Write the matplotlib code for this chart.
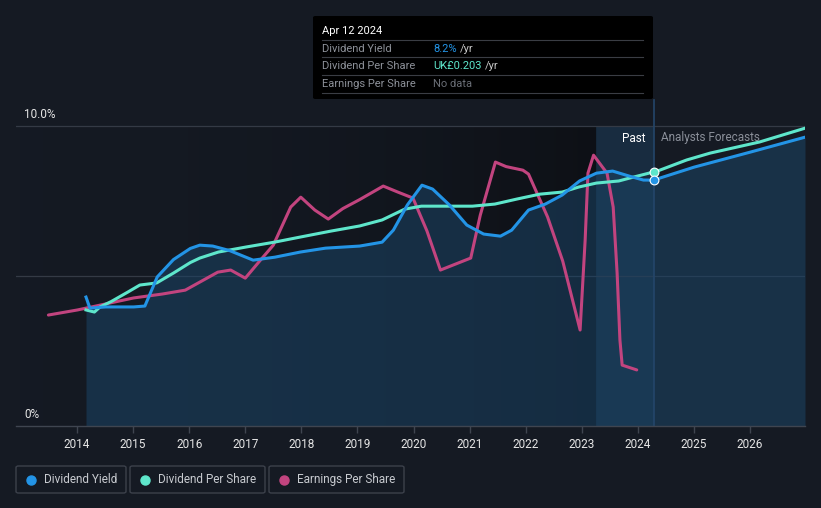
import matplotlib
matplotlib.use("Agg")
import matplotlib.pyplot as plt
import numpy as np
from matplotlib.colors import LinearSegmentedColormap
from matplotlib.patches import FancyBboxPatch

plt.rcParams['font.family'] = ['Roboto', 'DejaVu Sans']

# ---- data ----
dy_years = [2014.16, 2014.23, 2014.51, 2015.01, 2015.21, 2015.43, 2015.72, 2016.02, 2016.19, 2016.42,
            2016.72, 2017.14, 2017.53, 2017.98, 2018.43, 2019.04, 2019.44, 2019.64, 2019.89, 2020.15,
            2020.34, 2020.64, 2020.95, 2021.25, 2021.55, 2021.75, 2022.05, 2022.35, 2022.65, 2022.96,
            2023.26, 2023.55, 2023.85, 2024.1, 2024.28]
dy_vals = [4.30, 3.93, 3.97, 3.97, 4.00, 4.97, 5.55, 5.92, 6.03, 6.0,
           5.85, 5.53, 5.63, 5.80, 5.93, 6.00, 6.13, 6.53, 7.37, 8.03,
           7.90, 7.37, 6.70, 6.40, 6.33, 6.53, 7.20, 7.40, 7.70, 8.17,
           8.43, 8.50, 8.33, 8.20, 8.20]
dy_fc_years = [2024.28, 2025.0, 2026.0, 2026.98]
dy_fc_vals = [8.20, 8.63, 9.13, 9.63]

dps_years = [2014.16, 2014.31, 2014.41, 2014.61, 2014.91, 2015.12, 2015.42, 2015.72, 2016.02, 2016.19,
             2016.52, 2017.02, 2017.52, 2017.98, 2018.53, 2019.04, 2019.44, 2019.84, 2020.14, 2021.05,
             2021.45, 2021.85, 2022.25, 2022.65, 2022.95, 2023.26, 2023.66, 2023.86, 2024.28]
dps_vals = [3.87, 3.80, 3.97, 4.15, 4.47, 4.70, 4.77, 5.10, 5.45, 5.60,
            5.80, 5.97, 6.13, 6.30, 6.50, 6.67, 6.87, 7.23, 7.33, 7.33,
            7.40, 7.57, 7.73, 7.80, 7.97, 8.10, 8.17, 8.27, 8.47]
dps_fc_years = [2024.28, 2024.39, 2024.87, 2025.29, 2026.17, 2026.98]
dps_fc_vals = [8.47, 8.53, 8.87, 9.10, 9.47, 9.93]

eps_years = [2013.49, 2014.01, 2014.51, 2015.01, 2015.52, 2015.93, 2016.22, 2016.51, 2016.74, 2017.0,
             2017.27, 2017.5, 2017.81, 2017.99, 2018.24, 2018.48, 2018.74, 2019.04, 2019.46, 2019.72,
             2019.99, 2020.24, 2020.48, 2020.75, 2021.02, 2021.19, 2021.46, 2021.65, 2021.95, 2022.05,
             2022.39, 2022.66, 2022.97, 2023.06, 2023.11, 2023.21, 2023.45, 2023.56, 2023.63, 2023.68,
             2023.72, 2023.98]
eps_vals = [3.70, 3.87, 4.07, 4.27, 4.40, 4.53, 4.83, 5.13, 5.20, 4.93,
            5.53, 6.03, 7.30, 7.63, 7.20, 6.90, 7.25, 7.55, 8.00, 7.80,
            7.60, 6.50, 5.20, 5.40, 5.60, 7.03, 8.80, 8.65, 8.53, 8.40,
            6.97, 5.50, 3.20, 6.20, 8.43, 9.03, 8.43, 7.30, 5.10, 2.87,
            2.03, 1.87]

year_ticks = list(range(2014, 2027))
now_year = 2024.28
past_start = 2023.26

BG = '#151a23'
fig = plt.figure(figsize=(8.21, 5.08), dpi=100, facecolor=BG)
W, H = 821, 508
ax = fig.add_axes([16 / W, 82 / H, (805 - 16) / W, 326 / H])
ax.set_facecolor(BG)
x0, x1 = 2012.912, 2026.98
ax.set_xlim(x0, x1)
ax.set_ylim(0, 10.87)

# darker past background (gradient)
grad = np.linspace(0, 1, 256).reshape(1, -1)
cm = LinearSegmentedColormap.from_list('g', [(0.08, 0.10, 0.14, 0.0), (0.05, 0.06, 0.08, 0.85)])
ax.imshow(grad, extent=[x0, past_start, 0, 10], aspect='auto', cmap=cm, zorder=0.5)

# highlight band
ax.axvspan(past_start, now_year, ymin=0, ymax=10 / 10.87, color='#1c3c58', alpha=0.55, lw=0, zorder=0.6)

# grid lines
for v in [5, 10]:
    ax.axhline(v, color='#343a45', lw=0.9, zorder=1)

# fill under dividend yield
fx = dy_years + dy_fc_years[1:]
fy = dy_vals + dy_fc_vals[1:]
ax.fill_between(fx, 0, fy, color='#1b4466', alpha=0.55, lw=0, zorder=1.5)

# vertical now line
ax.plot([now_year, now_year], [0, 10.87], color='#24466a', lw=1.2, zorder=2, clip_on=False)

lw = 2.2
ax.plot(eps_years, eps_vals, color='#c2447f', lw=lw, zorder=3, solid_capstyle='round', solid_joinstyle='round')
ax.plot(dps_years, dps_vals, color='#5ee6cb', lw=lw, zorder=4, solid_joinstyle='round')
ax.plot(dps_fc_years, dps_fc_vals, color='#5ee6cb', lw=lw, zorder=4, solid_joinstyle='round')
ax.plot(dy_years, dy_vals, color='#2394e6', lw=lw, zorder=5, solid_joinstyle='round')
ax.plot(dy_fc_years, dy_fc_vals, color='#2394e6', lw=lw, zorder=5, solid_joinstyle='round')

ax.scatter([now_year], [dps_vals[-1]], s=40, color='#5ee6cb', edgecolor='white', linewidth=0.8, zorder=6)
ax.scatter([now_year], [dy_vals[-1]], s=40, color='#2394e6', edgecolor='white', linewidth=0.8, zorder=6)

for s in ['top', 'right', 'left']:
    ax.spines[s].set_visible(False)
ax.spines['bottom'].set_color('#3f4550')
ax.spines['bottom'].set_linewidth(1)
ax.set_yticks([])
ax.set_xticks(year_ticks)
ax.set_xticklabels([str(y) for y in year_ticks], color='#e6e6e6', fontsize=8.5)
ax.tick_params(axis='x', colors='#3f4550', length=5, width=1, pad=4, labelcolor='#e6e6e6')

# y labels
fig.text(24 / W, 1 - 114 / H, '10.0%', color='#e6e6e6', fontsize=8.5, va='center', ha='left')
fig.text(24 / W, 1 - 414 / H, '0%', color='#e6e6e6', fontsize=8.5, va='center', ha='left')

# Past / forecasts labels
fig.text(645 / W, 1 - 138 / H, 'Past', color='#ffffff', fontsize=8.5, va='center', ha='right')
fig.text(661 / W, 1 - 138 / H, 'Analysts Forecasts', color='#8a8f99', fontsize=8.5, va='center', ha='left')

# tooltip
tip = FancyBboxPatch((313 / W, 1 - 99 / H), (653 - 313) / W, (99 - 16) / H,
                     boxstyle='round,pad=0,rounding_size=0.003', transform=fig.transFigure,
                     facecolor='#000000', edgecolor='none', zorder=10)
fig.patches.append(tip)
fig.text(322 / W, 1 - 31 / H, 'Apr 12 2024', color='#ffffff', fontsize=8, va='center', zorder=11)
rows = [('Dividend Yield', '8.2%', '#2394e6'),
        ('Dividend Per Share', 'UK£0.203', '#5ee6cb'),
        ('Earnings Per Share', None, None)]
ys = [49, 66, 84]
fig.canvas.draw()
for (lab, val, col), yy in zip(rows, ys):
    fig.text(322 / W, 1 - yy / H, lab, color='#8d9199', fontsize=8, va='center', zorder=11)
    if val:
        t = fig.text(433 / W, 1 - yy / H, val, color=col, fontsize=8, va='center', zorder=11)
        bb = t.get_window_extent(renderer=fig.canvas.get_renderer())
        fig.text(bb.x1 / W + 3 / W, 1 - yy / H, '/yr', color='#c8c8c8', fontsize=8, va='center', zorder=11)
    else:
        fig.text(433 / W, 1 - yy / H, 'No data', color='#6b6f77', fontsize=8, va='center', zorder=11)
for yy in [40, 57, 75, 93]:
    fig.add_artist(plt.Line2D([322 / W, 643 / W], [1 - yy / H, 1 - yy / H], color='#3a3d44', lw=0.8, zorder=11))

# legend boxes
legend = [('Dividend Yield', '#2394e6', 16, 126),
          ('Dividend Per Share', '#5ee6cb', 130, 265),
          ('Earnings Per Share', '#c2447f', 269, 404)]
for lab, col, xa, xb in legend:
    box = FancyBboxPatch((xa / W, 1 - 493 / H), (xb - xa) / W, 27 / H,
                         boxstyle='round,pad=0,rounding_size=0.003', transform=fig.transFigure,
                         facecolor='none', edgecolor='#3c414b', lw=1)
    fig.patches.append(box)
    fig.add_artist(plt.Line2D([(xa + 15) / W], [1 - 479.5 / H], marker='o', markersize=6.5,
                              color=col, linestyle='none'))
    fig.text((xa + 28) / W, 1 - 479.5 / H, lab, color='#c8cbd0', fontsize=8.5, va='center')

fig.savefig('out.png', dpi=100, facecolor=BG)
